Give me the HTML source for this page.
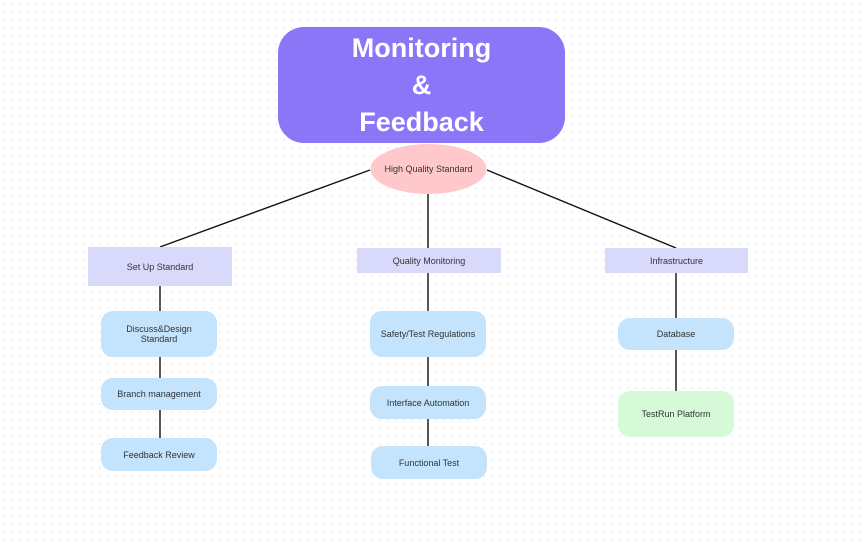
<!DOCTYPE html>
<html><head><meta charset="utf-8"><style>
html,body{margin:0;padding:0}
body{width:865px;height:541px;position:relative;overflow:hidden;background:#fff;
background-image:radial-gradient(circle,#ececec 0.8px,transparent 1px);background-size:8px 8px;
font-family:"Liberation Sans",sans-serif;color:#333}
.b{position:absolute;display:flex;align-items:center;justify-content:center;text-align:center;font-size:9px;line-height:10px;box-sizing:border-box}
.h{background:#D9D9FC}
.n{background:#C4E4FD;border-radius:12px}
svg{position:absolute;left:0;top:0}
</style></head><body>
<svg width="865" height="541">
<g stroke="#111" stroke-width="1.4" fill="none">
<line x1="370" y1="170" x2="160" y2="247"/>
<line x1="487" y1="170" x2="676" y2="248"/>
<line x1="428" y1="194" x2="428" y2="248"/>
<line x1="160" y1="286" x2="160" y2="311"/>
<line x1="160" y1="357" x2="160" y2="378"/>
<line x1="160" y1="410" x2="160" y2="438"/>
<line x1="428" y1="273" x2="428" y2="311"/>
<line x1="428" y1="357" x2="428" y2="386"/>
<line x1="428" y1="419" x2="428" y2="446"/>
<line x1="676" y1="273" x2="676" y2="318"/>
<line x1="676" y1="350" x2="676" y2="391"/>
</g>
<ellipse cx="428.5" cy="169" rx="58" ry="25" fill="#FFC9CC"/>
<text x="428.5" y="172" text-anchor="middle" font-family="Liberation Sans, sans-serif" font-size="9" fill="#333">High Quality Standard</text>
</svg>
<div class="b" style="left:278px;top:27px;width:287px;height:116px;background:#8B76F8;border-radius:26px;color:#fff;font-weight:bold;font-size:27px;line-height:37px;flex-direction:column">Monitoring<br>&amp;<br>Feedback</div>
<div class="b h" style="left:88px;top:247px;width:144px;height:39px">Set Up Standard</div>
<div class="b h" style="left:357px;top:248px;width:144px;height:25px">Quality Monitoring</div>
<div class="b h" style="left:605px;top:248px;width:143px;height:25px">Infrastructure</div>
<div class="b n" style="left:101px;top:311px;width:116px;height:46px">Discuss&amp;Design<br>Standard</div>
<div class="b n" style="left:101px;top:378px;width:116px;height:32px">Branch management</div>
<div class="b n" style="left:101px;top:438px;width:116px;height:33px">Feedback Review</div>
<div class="b n" style="left:370px;top:311px;width:116px;height:46px">Safety/Test Regulations</div>
<div class="b n" style="left:370px;top:386px;width:116px;height:33px">Interface Automation</div>
<div class="b n" style="left:371px;top:446px;width:116px;height:33px">Functional Test</div>
<div class="b n" style="left:618px;top:318px;width:116px;height:32px">Database</div>
<div class="b n" style="left:618px;top:391px;width:116px;height:46px;background:#D6FAD8">TestRun Platform</div>
</body></html>
